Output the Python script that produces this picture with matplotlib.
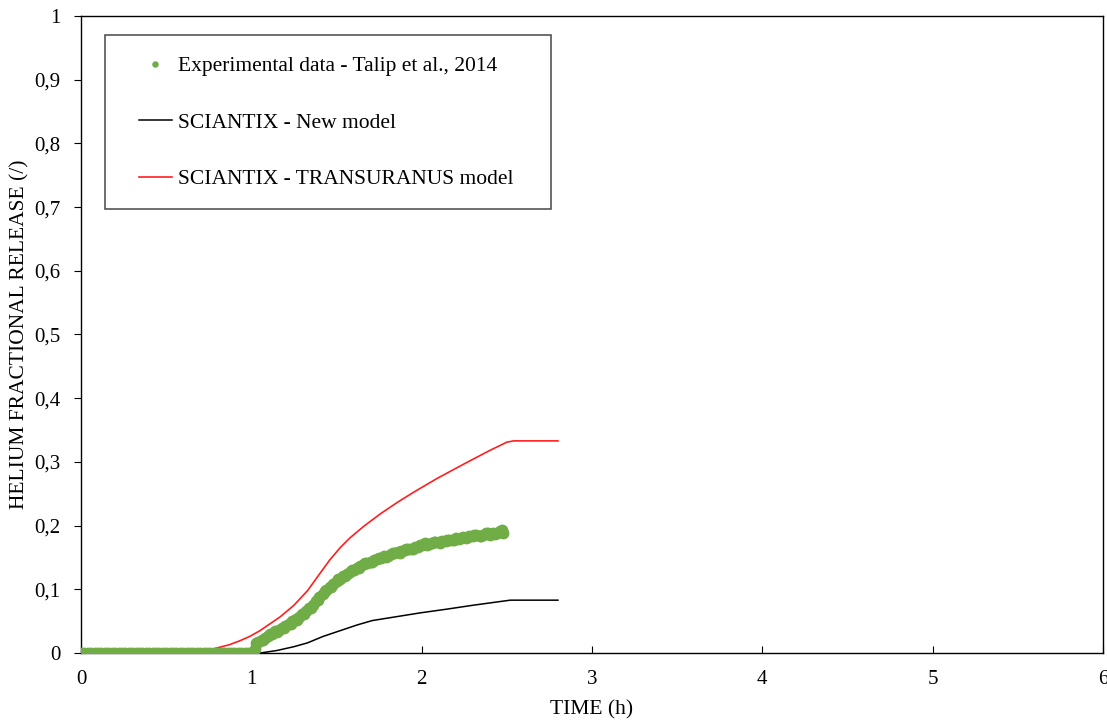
import numpy as np
import matplotlib.pyplot as plt
from matplotlib.patches import Rectangle
from matplotlib.ticker import FuncFormatter

plt.rcParams['font.family'] = ['Liberation Serif', 'DejaVu Serif']

# experimental helium release (Talip et al., 2014)
exp_time = [0.00, 0.02, 0.04, 0.06, 0.08, 0.10, 0.12, 0.14, 0.16, 0.18, 0.20,
            0.22, 0.24, 0.26, 0.28, 0.30, 0.32, 0.34, 0.36, 0.38, 0.40, 0.42,
            0.44, 0.46, 0.48, 0.50, 0.52, 0.54, 0.56, 0.58, 0.60, 0.62, 0.64,
            0.66, 0.68, 0.70, 0.72, 0.74, 0.76, 0.78, 0.80, 0.82, 0.84, 0.86,
            0.88, 0.90, 0.92, 0.94, 0.96, 0.98, 1.00,
            1.02, 1.04, 1.06, 1.08, 1.10, 1.12, 1.14, 1.16, 1.18, 1.20, 1.22,
            1.24, 1.26, 1.28, 1.30, 1.32, 1.34, 1.36, 1.38, 1.40, 1.42, 1.44,
            1.46, 1.48, 1.50, 1.52, 1.54, 1.56, 1.58, 1.60, 1.62, 1.64, 1.66,
            1.68, 1.70, 1.72, 1.74, 1.76, 1.78, 1.80, 1.82, 1.84, 1.86, 1.88,
            1.90, 1.92, 1.94, 1.96, 1.98, 2.00, 2.02, 2.04, 2.06, 2.08, 2.10,
            2.12, 2.14, 2.16, 2.18, 2.20, 2.22, 2.24, 2.26, 2.28, 2.30, 2.32,
            2.34, 2.36, 2.38, 2.40, 2.42, 2.44, 2.46, 2.48,
            1.03, 1.07, 1.11, 1.15, 1.19, 1.23, 1.27, 1.31, 1.35, 1.39, 1.43,
            1.47, 1.51, 1.55, 1.59, 1.63, 1.67, 1.71, 1.75, 1.79, 1.83, 1.87,
            1.91, 1.95, 1.99, 2.03, 2.07, 2.11, 2.15, 2.19, 2.23, 2.27, 2.31,
            2.35, 2.39, 2.43, 2.47]
exp_release = [0.0] * 51 + [
    0.006, 0.017, 0.020, 0.023, 0.027, 0.030, 0.034, 0.036, 0.040, 0.043, 0.046,
    0.050, 0.053, 0.057, 0.061, 0.066, 0.071, 0.076, 0.082, 0.088, 0.093, 0.099,
    0.104, 0.108, 0.113, 0.117, 0.121, 0.124, 0.127, 0.131, 0.133, 0.136, 0.139,
    0.141, 0.143, 0.146, 0.148, 0.149, 0.152, 0.153, 0.155, 0.157, 0.158, 0.160,
    0.161, 0.163, 0.164, 0.166, 0.166, 0.169, 0.172, 0.171, 0.172, 0.174, 0.174,
    0.176, 0.176, 0.178, 0.177, 0.180, 0.179, 0.182, 0.181, 0.184, 0.183, 0.185,
    0.184, 0.186, 0.188, 0.186, 0.189, 0.188, 0.191, 0.188,
    0.016, 0.020, 0.030, 0.033, 0.040, 0.046, 0.052, 0.061, 0.071, 0.083, 0.098,
    0.104, 0.117, 0.121, 0.130, 0.133, 0.141, 0.143, 0.149, 0.150, 0.157, 0.157,
    0.163, 0.163, 0.170, 0.169, 0.175, 0.173, 0.178, 0.178, 0.181, 0.182, 0.186,
    0.184, 0.189, 0.187, 0.193]

# SCIANTIX - new model
new_time = [0.00, 1.05, 1.15, 1.25, 1.33, 1.42, 1.52, 1.62, 1.71, 1.85, 1.99,
            2.15, 2.30, 2.52, 2.80]
new_release = [0.0, 0.0, 0.004, 0.010, 0.016, 0.026, 0.035, 0.044, 0.051, 0.057,
               0.063, 0.069, 0.075, 0.083, 0.083]

# SCIANTIX - TRANSURANUS model
tu_time = [0.00, 0.70, 0.77, 0.87, 0.93, 0.99, 1.05, 1.11, 1.17, 1.25, 1.33,
           1.40, 1.46, 1.52, 1.58, 1.66, 1.76, 1.86, 1.95, 2.09, 2.25, 2.40,
           2.50, 2.54, 2.80]
tu_release = [0.0, 0.0, 0.006, 0.013, 0.019, 0.026, 0.035, 0.046, 0.057, 0.075,
              0.098, 0.124, 0.146, 0.165, 0.181, 0.199, 0.219, 0.237, 0.252,
              0.274, 0.297, 0.318, 0.331, 0.333, 0.333]

fig = plt.figure(figsize=(11.07, 7.24), dpi=100)
ax = fig.add_axes([0.0732, 0.098, 0.9232, 0.880])

ax.plot(exp_time, exp_release, 'o', color='#70AD47', ms=8.5, mec='none',
        label='Experimental data - Talip et al., 2014', zorder=3)
ax.plot(new_time, new_release, color='black', lw=1.1, label='SCIANTIX - New model')
ax.plot(tu_time, tu_release, color='#FF1F1F', lw=1.2,
        label='SCIANTIX - TRANSURANUS model')

ax.set_xlim(0, 6)
ax.set_ylim(0, 1)
ax.set_xticks(range(7))
ax.set_yticks(np.arange(0, 1.01, 0.1))
ax.yaxis.set_major_formatter(FuncFormatter(
    lambda v, p: '0' if abs(v) < 1e-9 else ('1' if abs(v - 1) < 1e-9 else f'{v:.1f}'.replace('.', ','))))
ax.tick_params(axis='x', direction='in', length=5, labelsize=15, pad=12)
ax.tick_params(axis='y', direction='out', length=5, labelsize=15, pad=10)
for s in ax.spines.values():
    s.set_linewidth(1.0)

ax.set_xlabel('TIME (h)', fontsize=15.5, labelpad=8)
ax.set_ylabel('HELIUM FRACTIONAL RELEASE (/)', fontsize=15.5, labelpad=3)

# legend without its own frame; the box is drawn with extra side padding
leg = ax.legend(loc='upper left', bbox_to_anchor=(0.057, 0.937), fontsize=15.5,
                frameon=False, markerscale=0.55, handlelength=1.5,
                handletextpad=0.3, labelspacing=1.7, borderpad=0,
                borderaxespad=0)
fig.canvas.draw()
bb = leg.get_window_extent(fig.canvas.get_renderer())
inv = fig.transFigure.inverted()
(x0, y0), (x1, y1) = inv.transform([(bb.x0 - 34, bb.y0 - 20), (bb.x1 + 37, bb.y1 + 21)])
fig.patches.append(Rectangle((x0, y0), x1 - x0, y1 - y0, transform=fig.transFigure,
                             fill=False, edgecolor='#555555', lw=1.2, zorder=5))

fig.savefig('out.png', dpi=100)
